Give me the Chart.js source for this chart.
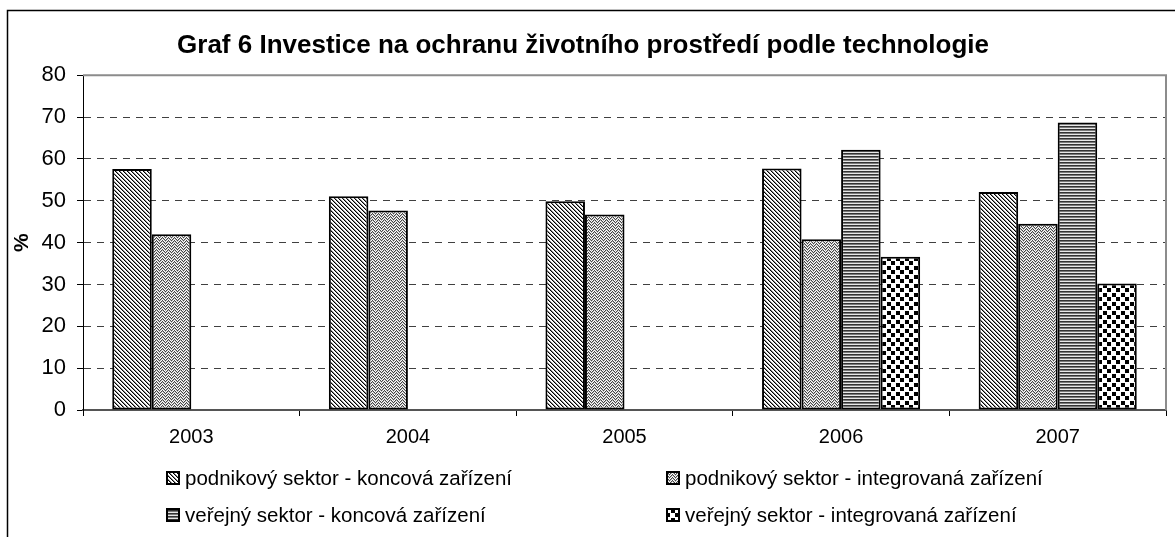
<!doctype html>
<html>

<head>
    <title>Graf 6</title>
    <script src="https://cdn.jsdelivr.net/npm/chart.js"></script>
</head>

<style>
    body { margin: 0; background: white; }
    #box { width: 1175px; height: 537px; }
</style>

<body>
    <div id="box">
        <canvas id="graf"></canvas>
    </div>

    <script>
        // data
        var roky = ['2003', '2004', '2005', '2006', '2007'];
        var podnikKoncova = [57.6, 51.1, 49.9, 57.7, 52.1];
        var podnikIntegrovana = [42.0, 47.7, 46.7, 40.8, 44.5];
        var verejnyKoncova = [null, null, null, 62.2, 68.7];
        var verejnyIntegrovana = [null, null, null, 36.6, 30.2];
        var nazvy = [
            'podnikový sektor - koncová zařízení',
            'podnikový sektor - integrovaná zařízení',
            'veřejný sektor - koncová zařízení',
            'veřejný sektor - integrovaná zařízení'
        ];
        var osaY = [0, 10, 20, 30, 40, 50, 60, 70, 80];

        var pismo = "'Liberation Sans', Arial, sans-serif";

        // small pixel tiles used as fill patterns
        function vzor(w, h, barva) {
            var c = document.createElement('canvas');
            c.width = w; c.height = h;
            var g = c.getContext('2d');
            g.fillStyle = '#fff';
            g.fillRect(0, 0, w, h);
            for (var y = 0; y < h; y++) {
                for (var x = 0; x < w; x++) {
                    var b = barva(x, y);
                    if (b) { g.fillStyle = b; g.fillRect(x, y, 1, 1); }
                }
            }
            return g.createPattern(c, 'repeat');
        }

        var ctx = document.getElementById('graf').getContext('2d');

        var vzorDiag = vzor(4, 4, function (x, y) {
            var d = ((x - y) % 4 + 4) % 4;
            if (d == 0) return '#000';
            if (d == 1) return '#8a8a8a';
            return null;
        });
        var vzorCik = vzor(6, 6, function (x, y) {
            var z = x < 3 ? x : 6 - x;
            var d = ((y - z) % 3 + 3) % 3;
            if (d == 0) return '#444';
            if (d == 1) return '#b8b8b8';
            return null;
        });
        var vzorVodorovny = vzor(1, 3, function (x, y) {
            if (y == 0) return '#333';
            if (y == 1) return '#7a7a7a';
            return '#e8e8e8';
        });
        var vzorSach = vzor(9, 9, function (x, y) {
            var a = x < 5, b = y < 5;
            if (x == 4 || y == 4) return null;
            return (a == b) ? '#000' : null;
        });

        var vzory = [vzorDiag, vzorCik, vzorVodorovny, vzorSach];

        // frame, plot border and the 2x2 legend
        var doplnky = {
            id: 'doplnky',
            beforeDraw: function (chart) {
                var c = chart.ctx;
                c.save();
                c.strokeStyle = '#000';
                c.lineWidth = 1.5;
                c.strokeRect(7.5, 10.5, 1300, 700);
                c.restore();
            },
            afterDraw: function (chart) {
                var c = chart.ctx;
                var a = chart.chartArea;
                c.save();
                c.strokeStyle = '#8c8c8c';
                c.lineWidth = 2;
                c.beginPath();
                c.moveTo(a.left, a.top);
                c.lineTo(a.right, a.top);
                c.lineTo(a.right, a.bottom);
                c.stroke();

                var sloupce = [166, 666];
                var radky = [478, 515];
                c.font = '20.5px ' + pismo;
                c.fillStyle = '#000';
                c.textBaseline = 'middle';
                c.textAlign = 'left';
                chart.data.datasets.forEach(function (ds, i) {
                    var x = sloupce[i % 2];
                    var y = radky[Math.floor(i / 2)];
                    c.fillStyle = ds.backgroundColor;
                    c.fillRect(x, y - 7, 14, 14);
                    c.strokeStyle = '#000';
                    c.lineWidth = 2;
                    c.strokeRect(x + 1, y - 6, 12, 12);
                    c.fillStyle = '#000';
                    c.fillText(ds.label, x + 19, y + 1);
                });
                c.restore();
            }
        };

        var data = [podnikKoncova, podnikIntegrovana, verejnyKoncova, verejnyIntegrovana];

        var graf = new Chart(ctx, {
            type: 'bar',
            data: {
                labels: roky,
                datasets: data.map(function (hodnoty, i) {
                    return {
                        label: nazvy[i],
                        data: hodnoty,
                        backgroundColor: vzory[i],
                        borderColor: '#000',
                        borderWidth: 2,
                        borderSkipped: false,
                        barPercentage: 1,
                        categoryPercentage: 0.73
                    };
                })
            },
            plugins: [doplnky],
            options: {
                responsive: true,
                maintainAspectRatio: false,
                animation: false,
                layout: {
                    padding: { left: 0, right: 9, top: 0, bottom: 0 }
                },
                plugins: {
                    legend: { display: false },
                    tooltip: { enabled: false },
                    title: {
                        display: true,
                        text: 'Graf 6 Investice na ochranu životního prostředí podle technologie',
                        color: '#000',
                        font: { family: pismo, size: 26, weight: 'bold' },
                        padding: { top: 30, bottom: 14 }
                    }
                },
                scales: {
                    x: {
                        afterFit: function (s) { s.height = 127; },
                        grid: {
                            drawOnChartArea: false,
                            drawTicks: true,
                            tickLength: 6,
                            tickColor: '#000',
                            offset: true
                        },
                        border: { color: '#555', width: 2 },
                        ticks: {
                            color: '#000',
                            padding: 9,
                            maxRotation: 0,
                            font: { family: pismo, size: 20 }
                        }
                    },
                    y: {
                        min: 0,
                        max: 80,
                        afterFit: function (s) { s.width = 83; },
                        afterBuildTicks: function (s) {
                            s.ticks = osaY.map(function (v) { return { value: v }; });
                        },
                        grid: {
                            color: function (c) {
                                var v = c.tick ? c.tick.value : 0;
                                return (v == 0 || v == 80) ? 'rgba(0,0,0,0)' : '#404040';
                            },
                            lineWidth: 1,
                            drawTicks: true,
                            tickLength: 6,
                            tickColor: '#000'
                        },
                        border: { color: '#000', width: 1, dash: [7, 6] },
                        ticks: {
                            color: '#000',
                            padding: 11,
                            font: { family: pismo, size: 22 }
                        },
                        title: {
                            display: true,
                            text: '%',
                            color: '#000',
                            font: { family: pismo, size: 21, weight: 'bold' },
                            padding: { top: 10, bottom: 0 }
                        }
                    }
                }
            }
        });
    </script>
</body>

</html>
